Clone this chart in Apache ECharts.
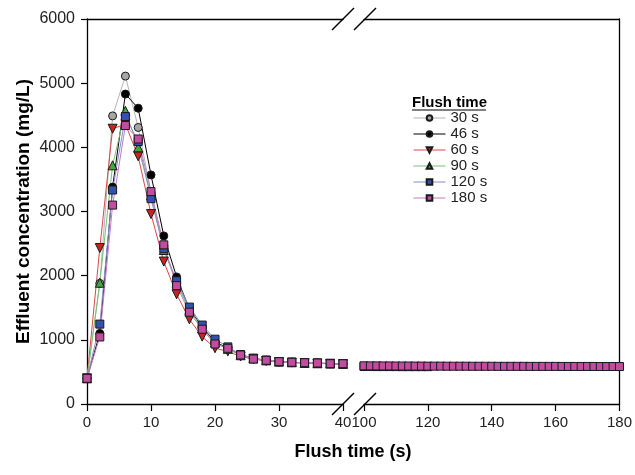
<!DOCTYPE html>
<html>
<head>
<meta charset="utf-8">
<script src="https://cdn.jsdelivr.net/npm/echarts@6/dist/echarts.min.js"></script>
<style>
  html, body { margin: 0; padding: 0; background: #fff; }
  #chart { width: 635px; height: 475px; }
</style>
</head>
<body>
<div id="chart"></div>
<script>
// Sampling times (s): early flush phase and late plateau after the axis break
const timesEarly = [0, 2, 4, 6, 8, 10, 12, 14, 16, 18, 20, 22, 24, 26, 28, 30, 32, 34, 36, 38, 40];
const timesLate120 = [100, 102, 104, 106, 108, 110, 112, 114, 116, 118, 120];
const timesLate180 = [100, 102, 104, 106, 108, 110, 112, 114, 116, 118, 120, 122, 124, 126, 128, 130,
  132, 134, 136, 138, 140, 142, 144, 146, 148, 150, 152, 154, 156, 158, 160, 162, 164, 166, 168, 170,
  172, 174, 176, 178, 180];

// Effluent concentration (mg/L) per flush time
const flush30 = [400, 1880, 4490, 5110, 4310, 3300, 2420, 1900, 1460, 1200, 960, 860, 760, 710, 680, 660, 650, 640, 635, 630, 625];
const flush46 = [400, 1100, 3380, 4830, 4610, 3570, 2620, 1980, 1480, 1200, 970, 870, 770, 710, 680, 660, 650, 640, 635, 630, 625];
const flush60 = [400, 2430, 4290, 4360, 3860, 2960, 2220, 1710, 1320, 1050, 870, 820, 740, 700, 670, 655, 645, 638, 632, 628, 622];
const flush90 = [400, 1890, 3720, 4570, 4000, 3250, 2400, 1890, 1470, 1180, 960, 860, 760, 710, 680, 660, 650, 640, 635, 630, 625];
const flush120 = [400, 1245, 3335, 4480, 4090, 3200, 2420, 1920, 1510, 1230, 1010, 890, 770, 715, 685, 662, 650, 642, 636, 630, 626];
const flush180 = [400, 1045, 3100, 4340, 4130, 3310, 2480, 1845, 1430, 1165, 935, 868, 764, 701, 681, 660, 650, 644, 639, 628, 628];
const flush120Late = [584, 584, 583, 583, 583, 583, 582, 582, 582, 582, 582];
const flush180Late = [595, 594, 594, 593, 593, 592, 592, 592, 591, 591, 590, 590, 590, 589, 589, 589, 589, 588,
  588, 588, 588, 587, 587, 587, 587, 587, 586, 586, 586, 586, 586, 585, 585, 585, 585, 585, 585, 584, 584, 584, 584];

const seriesNames = ['30 s', '46 s', '60 s', '90 s', '120 s', '180 s'];
const yTicks = { min: 0, max: 6000, step: 1000 };

const FONT = '"Liberation Sans", Arial, sans-serif';

function pairs(xs, ys) { return xs.map((x, i) => [x, ys[i]]); }

const looks = {
  '30 s':  { symbol: 'circle',   size: 8, rot: 0,   fill: '#a6a6a6', line: '#b4b4b4' },
  '46 s':  { symbol: 'circle',   size: 8, rot: 0,   fill: '#000000', line: '#000000' },
  '60 s':  { symbol: 'triangle', size: 9, rot: 180, fill: '#cc2222', line: '#d84848' },
  '90 s':  { symbol: 'triangle', size: 9, rot: 0,   fill: '#3fa83f', line: '#78c078' },
  '120 s': { symbol: 'rect',     size: 8, rot: 0,   fill: '#3352b0', line: '#8c8cc8' },
  '180 s': { symbol: 'rect',     size: 8, rot: 0,   fill: '#c24ca0', line: '#c27cc2' }
};

function lineSeries(name, data, gridSide) {
  const lk = looks[name];
  return {
    name: name,
    type: 'line',
    xAxisIndex: gridSide,
    yAxisIndex: gridSide,
    data: data,
    symbol: lk.symbol,
    symbolSize: lk.size,
    symbolRotate: lk.rot,
    showAllSymbol: true,
    lineStyle: { color: lk.line, width: 1 },
    itemStyle: { color: lk.fill, borderColor: '#1a1a1a', borderWidth: 1 },
    emphasis: { disabled: true },
    animation: false
  };
}

const earlySets = [flush30, flush46, flush60, flush90, flush120, flush180];
const series = seriesNames.map((n, i) => lineSeries(n, pairs(timesEarly, earlySets[i]), 0));
// late plateau: 120 s drawn first so the 180 s points sit on top
series.push(lineSeries('120 s', pairs(timesLate120, flush120Late), 1));
series.push(lineSeries('180 s', pairs(timesLate180, flush180Late), 1));

const axisLine = { show: true, onZero: false, lineStyle: { color: '#000', width: 1.3 } };
const tickStyle = { lineStyle: { color: '#000', width: 1.2 } };

const chart = echarts.init(document.getElementById('chart'), null, { renderer: 'canvas' });

chart.setOption({
  animation: false,
  backgroundColor: '#ffffff',
  textStyle: { fontFamily: FONT },
  grid: [
    { left: 87, top: 19, width: 256, height: 385 },
    { left: 364, top: 19, width: 258, height: 385 }
  ],
  xAxis: [
    { gridIndex: 0, type: 'value', min: 0, max: 40, interval: 10, position: 'bottom',
      axisLine: axisLine, axisTick: Object.assign({ show: true, length: 7, inside: false }, tickStyle),
      axisLabel: { fontSize: 15, color: '#222', margin: 11, fontFamily: FONT },
      splitLine: { show: false } },
    { gridIndex: 1, type: 'value', min: 100, max: 180, interval: 20, position: 'bottom',
      axisLine: axisLine, axisTick: Object.assign({ show: true, length: 7, inside: false }, tickStyle),
      axisLabel: { fontSize: 15, color: '#222', margin: 11, fontFamily: FONT },
      splitLine: { show: false } },
    { gridIndex: 0, type: 'value', min: 0, max: 40, position: 'top',
      axisLine: axisLine, axisTick: { show: false }, axisLabel: { show: false }, splitLine: { show: false } },
    { gridIndex: 1, type: 'value', min: 100, max: 180, position: 'top',
      axisLine: axisLine, axisTick: { show: false }, axisLabel: { show: false }, splitLine: { show: false } }
  ],
  yAxis: [
    { gridIndex: 0, type: 'value', min: yTicks.min, max: yTicks.max, interval: yTicks.step, position: 'left',
      axisLine: axisLine, axisTick: Object.assign({ show: true, length: 6, inside: false }, tickStyle),
      axisLabel: { fontSize: 16, color: '#222', margin: 12, fontFamily: FONT,
        formatter: function (v) { return String(v); } },
      splitLine: { show: false },
      name: 'Effluent concentration (mg/L)', nameLocation: 'middle', nameGap: 54, nameRotate: 90,
      nameTextStyle: { fontSize: 19, fontWeight: 'bold', color: '#000', fontFamily: FONT } },
    { gridIndex: 1, type: 'value', min: yTicks.min, max: yTicks.max, interval: yTicks.step, position: 'right',
      axisLine: axisLine, axisTick: { show: false }, axisLabel: { show: false }, splitLine: { show: false } }
  ],
  legend: {
    data: seriesNames,
    orient: 'vertical',
    left: 413,
    top: 110,
    padding: 0,
    itemWidth: 32,
    itemHeight: 7,
    itemGap: 0,
    selectedMode: false,
    lineStyle: { width: 1 },
    textStyle: { fontSize: 15, lineHeight: 16, color: '#222', fontFamily: FONT }
  },
  series: series
});

// axis titles, legend heading and axis-break marks
const p0 = chart.convertToPixel({ xAxisIndex: 0, yAxisIndex: 0 }, [40, 0]);
const p1 = chart.convertToPixel({ xAxisIndex: 1, yAxisIndex: 1 }, [100, 0]);
const pTop = chart.convertToPixel({ xAxisIndex: 0, yAxisIndex: 0 }, [40, 6000]);
const h = 11;
function slash(id, cx, cy) {
  return { type: 'line', id: id, shape: { x1: cx - h, y1: cy + h, x2: cx + h, y2: cy - h },
    style: { stroke: '#000', lineWidth: 1.4 }, z: 10 };
}

chart.setOption({
  graphic: [
    { type: 'text', id: 'xTitle', x: 353, y: 452,
      style: { text: 'Flush time (s)', font: 'bold 18px ' + FONT, fill: '#000', textAlign: 'center', textVerticalAlign: 'middle' } },
    { type: 'text', id: 'legTitle', x: 412, y: 103,
      style: { text: 'Flush time', font: 'bold 15px ' + FONT, fill: '#000', textAlign: 'left', textVerticalAlign: 'middle' } },
    { type: 'line', id: 'legUnder', shape: { x1: 412, y1: 110, x2: 486, y2: 110 },
      style: { stroke: '#000', lineWidth: 1.2 } },
    slash('b1', p0[0], p0[1]),
    slash('b2', p1[0] + 1, p1[1]),
    slash('t1', pTop[0], pTop[1]),
    slash('t2', p1[0] + 1, pTop[1])
  ]
});
</script>
</body>
</html>
